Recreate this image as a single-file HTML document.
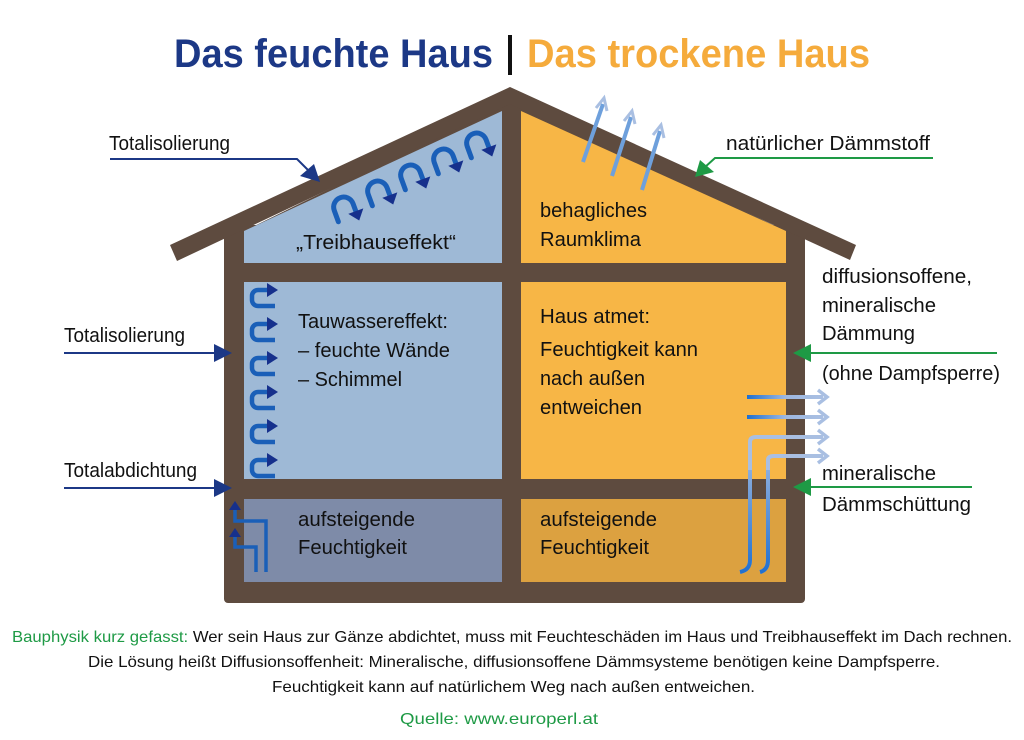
<!DOCTYPE html>
<html><head><meta charset="utf-8"><style>
html,body{margin:0;padding:0;background:#fff;}
svg{display:block;}
text{font-family:"Liberation Sans Narrow","Liberation Sans",sans-serif;}
</style></head><body>
<svg width="1024" height="740" viewBox="0 0 1024 740" xmlns="http://www.w3.org/2000/svg">
<defs>
<linearGradient id="gb" gradientUnits="userSpaceOnUse" x1="747" y1="0" x2="823" y2="0"><stop offset="0" stop-color="#1e6fd0"/><stop offset="0.5" stop-color="#9db7e0"/><stop offset="1" stop-color="#a9bfe2"/></linearGradient>
<linearGradient id="gv" gradientUnits="userSpaceOnUse" x1="0" y1="575" x2="0" y2="440"><stop offset="0" stop-color="#1e6fd0"/><stop offset="1" stop-color="#a9bfe2"/></linearGradient>
</defs>
<!-- title -->
<text x="174" y="67" font-size="40" font-weight="bold" fill="#1c3886" textLength="319" lengthAdjust="spacingAndGlyphs">Das feuchte Haus</text>
<rect x="508" y="35" width="4" height="40" fill="#111"/>
<text x="527" y="67" font-size="40" font-weight="bold" fill="#f5ab3c" textLength="343" lengthAdjust="spacingAndGlyphs">Das trockene Haus</text>

<!-- house body -->
<rect x="224" y="225" width="581" height="378" rx="4" fill="#5e4b3f"/>
<polygon points="244,231 510,100 786,231 786,263 244,263" fill="#5e4b3f"/>
<polygon points="170,245 510,87 856,245 850,260 510,104 177,261" fill="#5e4b3f"/>
<polygon points="244,231 244,263 502,263 502,111" fill="#9eb9d6"/>
<polygon points="521,111 786,231 786,263 521,263" fill="#f7b646"/>
<rect x="244" y="282" width="258" height="197" fill="#9eb9d6"/>
<rect x="521" y="282" width="265" height="197" fill="#f7b646"/>
<rect x="244" y="499" width="258" height="83" fill="#7e8ba8"/>
<rect x="521" y="499" width="265" height="83" fill="#dca140"/>

<!-- attic U arrows -->
<g fill="none" stroke="#1a5fb8" stroke-width="5" stroke-linecap="round">
<g transform="translate(337,218) rotate(-20)"><path d="M0,4 V-8 A10,10 0 0 1 20,-8 V0"/></g>
<g transform="translate(371,202) rotate(-20)"><path d="M0,4 V-8 A10,10 0 0 1 20,-8 V0"/></g>
<g transform="translate(404,186) rotate(-20)"><path d="M0,4 V-8 A10,10 0 0 1 20,-8 V0"/></g>
<g transform="translate(437,170) rotate(-20)"><path d="M0,4 V-8 A10,10 0 0 1 20,-8 V0"/></g>
<g transform="translate(470,154) rotate(-20)"><path d="M0,4 V-8 A10,10 0 0 1 20,-8 V0"/></g>
</g>
<g fill="#16308c">
<g transform="translate(337,218) rotate(-20)"><polygon points="12,0 28,0 20,10"/></g>
<g transform="translate(371,202) rotate(-20)"><polygon points="12,0 28,0 20,10"/></g>
<g transform="translate(404,186) rotate(-20)"><polygon points="12,0 28,0 20,10"/></g>
<g transform="translate(437,170) rotate(-20)"><polygon points="12,0 28,0 20,10"/></g>
<g transform="translate(470,154) rotate(-20)"><polygon points="12,0 28,0 20,10"/></g>
</g>

<!-- wall arrows -->
<g id="wa">
<path d="M275,306 H258 A6,6 0 0 1 252,300 V296 A6,6 0 0 1 258,290 H270" fill="none" stroke="#1a5fb8" stroke-width="4.5"/>
<polygon points="267,283 278,290 267,297" fill="#16308c"/>
</g>
<use href="#wa" y="34"/><use href="#wa" y="68"/><use href="#wa" y="102"/><use href="#wa" y="136"/><use href="#wa" y="170"/>

<!-- rising moisture left -->
<g fill="none" stroke="#1a5fb8" stroke-width="3.5">
<path d="M266,572 V521 H235 V508"/>
<path d="M256,572 V547 H235 V535"/>
</g>
<polygon points="229,510 235,501 241,510" fill="#16308c"/>
<polygon points="229,537 235,528 241,537" fill="#16308c"/>

<!-- roof up arrows -->
<g stroke="#6ea0dc" stroke-width="4" fill="none">
<line x1="583" y1="162" x2="603" y2="104"/>
<line x1="612" y1="176" x2="631" y2="117"/>
<line x1="642" y1="190" x2="660" y2="131"/>
</g>
<g fill="none" stroke="#a9bfe2" stroke-width="3">
<polyline points="596,108 604,98 607,111"/>
<polyline points="624,121 632,111 635,124"/>
<polyline points="653,135 661,125 664,138"/>
</g>

<!-- right side moisture arrows -->
<g stroke-width="4" fill="none">
<line x1="747" y1="397" x2="823" y2="397" stroke="url(#gb)"/>
<line x1="747" y1="417" x2="823" y2="417" stroke="url(#gb)"/>
<path d="M740,572 Q750,570 750,560 V442 Q750,437 756,437 H823" stroke="#a9bfe2"/>
<path d="M760,572 Q768,570 768,560 V460 Q768,456 774,456 H823" stroke="#a9bfe2"/>
<path d="M740,572 Q750,570 750,560 V470" stroke="url(#gv)"/>
<path d="M760,572 Q768,570 768,560 V470" stroke="url(#gv)"/>
</g>
<g fill="none" stroke="#a9bfe2" stroke-width="3.5">
<polyline points="818,390 827,397 818,404"/>
<polyline points="818,410 827,417 818,424"/>
<polyline points="818,430 827,437 818,444"/>
<polyline points="818,449 827,456 818,463"/>
</g>

<!-- callouts left -->
<g stroke="#1c3886" stroke-width="2" fill="none">
<polyline points="110,159 297,159 312,174"/>
<line x1="64" y1="353" x2="218" y2="353"/>
<line x1="64" y1="488" x2="218" y2="488"/>
</g>
<g fill="#1c3886">
<polygon points="320,182 300,176 314,164"/>
<polygon points="232,353 214,344 214,362"/>
<polygon points="232,488 214,479 214,497"/>
</g>
<!-- callouts right -->
<g stroke="#1e9a45" stroke-width="2" fill="none">
<polyline points="933,158 715,158 704,168"/>
<line x1="997" y1="353" x2="808" y2="353"/>
<line x1="972" y1="487" x2="808" y2="487"/>
</g>
<g fill="#1e9a45">
<polygon points="695,177 700,160 714,172"/>
<polygon points="793,353 811,344 811,362"/>
<polygon points="793,487 811,478 811,496"/>
</g>

<!-- labels -->
<g font-size="20" fill="#111" lengthAdjust="spacingAndGlyphs">
<text x="109" y="150" textLength="121" lengthAdjust="spacingAndGlyphs">Totalisolierung</text>
<text x="64" y="342" textLength="121" lengthAdjust="spacingAndGlyphs">Totalisolierung</text>
<text x="64" y="477" textLength="133" lengthAdjust="spacingAndGlyphs">Totalabdichtung</text>
<text x="726" y="150" textLength="204" lengthAdjust="spacingAndGlyphs">natürlicher Dämmstoff</text>
<text x="822" y="283" textLength="150" lengthAdjust="spacingAndGlyphs">diffusionsoffene,</text>
<text x="822" y="312" textLength="114" lengthAdjust="spacingAndGlyphs">mineralische</text>
<text x="822" y="340" textLength="93" lengthAdjust="spacingAndGlyphs">Dämmung</text>
<text x="822" y="380" textLength="178" lengthAdjust="spacingAndGlyphs">(ohne Dampfsperre)</text>
<text x="822" y="480" textLength="114" lengthAdjust="spacingAndGlyphs">mineralische</text>
<text x="822" y="511" textLength="149" lengthAdjust="spacingAndGlyphs">Dämmschüttung</text>
<text x="296" y="249" textLength="160" lengthAdjust="spacingAndGlyphs">„Treibhauseffekt“</text>
<text x="540" y="217" textLength="107" lengthAdjust="spacingAndGlyphs">behagliches</text>
<text x="540" y="246" textLength="101" lengthAdjust="spacingAndGlyphs">Raumklima</text>
<text x="298" y="328" textLength="150" lengthAdjust="spacingAndGlyphs">Tauwassereffekt:</text>
<text x="298" y="357" textLength="152" lengthAdjust="spacingAndGlyphs">– feuchte Wände</text>
<text x="298" y="386" textLength="104" lengthAdjust="spacingAndGlyphs">– Schimmel</text>
<text x="540" y="323" textLength="110" lengthAdjust="spacingAndGlyphs">Haus atmet:</text>
<text x="540" y="356" textLength="158" lengthAdjust="spacingAndGlyphs">Feuchtigkeit kann</text>
<text x="540" y="385" textLength="105" lengthAdjust="spacingAndGlyphs">nach außen</text>
<text x="540" y="414" textLength="102" lengthAdjust="spacingAndGlyphs">entweichen</text>
<text x="298" y="526" textLength="117" lengthAdjust="spacingAndGlyphs">aufsteigende</text>
<text x="298" y="554" textLength="109" lengthAdjust="spacingAndGlyphs">Feuchtigkeit</text>
<text x="540" y="526" textLength="117" lengthAdjust="spacingAndGlyphs">aufsteigende</text>
<text x="540" y="554" textLength="109" lengthAdjust="spacingAndGlyphs">Feuchtigkeit</text>
</g>

<!-- footer -->
<g font-size="16" fill="#111">
<text x="12" y="642" textLength="1000" lengthAdjust="spacingAndGlyphs"><tspan fill="#1e9a45">Bauphysik kurz gefasst:</tspan> Wer sein Haus zur Gänze abdichtet, muss mit Feuchteschäden im Haus und Treibhauseffekt im Dach rechnen.</text>
<text x="88" y="667" textLength="852" lengthAdjust="spacingAndGlyphs">Die Lösung heißt Diffusionsoffenheit: Mineralische, diffusionsoffene Dämmsysteme benötigen keine Dampfsperre.</text>
<text x="272" y="692" textLength="483" lengthAdjust="spacingAndGlyphs">Feuchtigkeit kann auf natürlichem Weg nach außen entweichen.</text>
<text x="400" y="724" fill="#1e9a45" textLength="198" lengthAdjust="spacingAndGlyphs">Quelle: www.europerl.at</text>
</g>
</svg>
</body></html>
